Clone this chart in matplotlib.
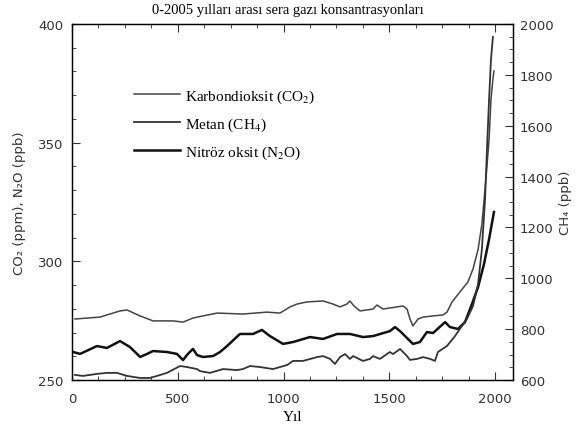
import matplotlib
matplotlib.use("Agg")
import matplotlib.pyplot as plt
from matplotlib.ticker import MultipleLocator

plt.rcParams['mathtext.fontset'] = 'stix'

# values
co2_year = [14, 132, 227, 260, 322, 383, 478, 525, 572, 619, 686, 808, 922, 983,
            1031, 1064, 1111, 1187, 1234, 1267, 1300, 1314, 1333, 1362, 1423, 1442,
            1470, 1537, 1565, 1584, 1598, 1612, 1636, 1660, 1707, 1754, 1773, 1797,
            1834, 1872, 1896, 1920, 1938, 1957, 1972, 1981, 1990, 1995]
co2_ppm = [275.7, 276.5, 279.1, 279.5, 277.0, 274.9, 274.9, 274.4, 276.1, 277.0,
           278.2, 277.8, 278.6, 278.2, 280.8, 282.0, 282.9, 283.3, 282.0, 280.8,
           282.0, 283.3, 281.2, 279.1, 279.9, 281.6, 279.9, 280.8, 281.2, 279.9,
           275.7, 272.8, 275.7, 276.5, 277.0, 277.4, 278.6, 282.9, 287.1, 291.3,
           296.8, 305.0, 315.7, 334.7, 351.5, 368.4, 376.8, 380.2]

n2o_year = [5, 38, 118, 165, 227, 274, 322, 355, 383, 449, 496, 525, 548, 572, 591,
            619, 667, 700, 733, 794, 856, 898, 936, 998, 1045, 1125, 1187, 1253,
            1314, 1376, 1423, 1503, 1527, 1551, 1612, 1645, 1678, 1707, 1764, 1787,
            1825, 1858, 1891, 1920, 1948, 1972, 1995]
n2o_ppb = [261.8, 261.0, 264.3, 263.5, 266.4, 263.9, 259.7, 261.0, 262.2, 261.8,
           261.0, 258.4, 261.0, 263.1, 260.5, 259.7, 260.1, 261.8, 264.3, 269.4,
           269.4, 271.1, 268.5, 265.2, 266.0, 268.1, 267.3, 269.4, 269.4, 268.1,
           268.5, 270.6, 272.3, 270.6, 265.2, 266.0, 270.2, 269.8, 274.4, 272.3,
           271.5, 274.4, 282.0, 289.2, 298.9, 309.4, 320.8]

ch4_year = [14, 52, 118, 165, 213, 260, 322, 369, 402, 449, 511, 544, 591, 605, 652,
            714, 780, 808, 842, 889, 950, 1017, 1045, 1092, 1158, 1187, 1220, 1243,
            1267, 1291, 1314, 1329, 1376, 1409, 1423, 1456, 1503, 1518, 1551, 1584,
            1598, 1631, 1660, 1693, 1716, 1730, 1773, 1811, 1834, 1867, 1896, 1920,
            1938, 1953, 1962, 1972, 1981, 1990]
ch4_ppb = [620, 616, 624, 628, 628, 616, 608, 608, 616, 628, 655, 651, 643, 635, 628,
           643, 639, 643, 655, 651, 643, 659, 675, 675, 690, 694, 683, 663, 690, 702,
           683, 694, 675, 683, 694, 683, 710, 702, 722, 694, 679, 683, 690, 683, 675,
           710, 734, 773, 801, 840, 891, 978, 1115, 1312, 1509, 1705, 1862, 1949]

title = '0-2005 yılları arası sera gazı konsantrasyonları'
labels = ['Karbondioksit (CO$_2$)', 'Metan (CH$_4$)', 'Nitröz oksit (N$_2$O)']

fig = plt.figure(figsize=(5.76, 4.39), dpi=100)
ax = fig.add_axes([72 / 576, 58 / 439, 441 / 576, 356 / 439])
ax2 = ax.twinx()

l1, = ax.plot(co2_year, co2_ppm, color='#444444', lw=1.1)
l3, = ax.plot(n2o_year, n2o_ppb, color='#111111', lw=1.8)
l2, = ax2.plot(ch4_year, ch4_ppb, color='#333333', lw=1.3)

ax.set_xlim(0, 2085)
ax.set_ylim(250, 400)
ax2.set_ylim(600, 2000)

ax.xaxis.set_major_locator(MultipleLocator(500))
ax.xaxis.set_minor_locator(MultipleLocator(125))
ax.yaxis.set_major_locator(MultipleLocator(50))
ax.yaxis.set_minor_locator(MultipleLocator(10))
ax2.yaxis.set_major_locator(MultipleLocator(200))
ax2.yaxis.set_minor_locator(MultipleLocator(50))

ax.tick_params(which='both', direction='in', top=True, right=False, labelsize=9.5,
               colors='#333333')
ax.tick_params(which='major', length=6)
ax.tick_params(which='minor', length=3)
ax.tick_params(axis='x', pad=9)
ax.tick_params(axis='y', pad=6)
ax2.tick_params(which='both', direction='in', labelsize=9.5, colors='#333333', pad=5)
ax2.tick_params(which='major', length=6)
ax2.tick_params(which='minor', length=3)

for a in (ax, ax2):
    for s in a.spines.values():
        s.set_linewidth(0.9)

ax.set_xlabel('Yıl', family='Liberation Serif', fontsize=11, labelpad=3)
ax.set_ylabel('CO₂ (ppm), N₂O (ppb)', fontsize=9.5, color='#333333', labelpad=9)
ax2.set_ylabel('CH₄ (ppb)', fontsize=9.5, color='#333333', labelpad=4)

fig.text(0.5, 0.99, title, ha='center', va='top', family='Liberation Serif',
         fontsize=10.5)

leg = ax.legend([l1, l2, l3], labels, loc='upper left', bbox_to_anchor=(0.11, 0.86),
                frameon=False, handlelength=3.0, handletextpad=0.3, labelspacing=0.7,
                prop={'family': 'Liberation Serif', 'size': 11})

fig.savefig('out.png', dpi=100)
